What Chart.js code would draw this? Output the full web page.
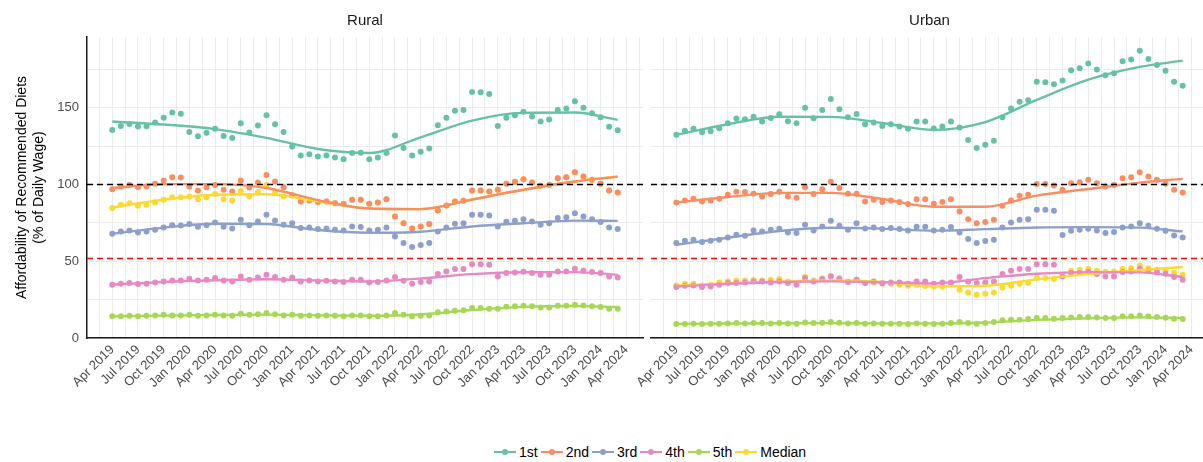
<!DOCTYPE html>
<html>
<head>
<meta charset="utf-8">
<script src="https://cdn.jsdelivr.net/npm/chart.js@4.4.1/dist/chart.umd.min.js"></script>
<style>
  html, body { margin: 0; padding: 0; background: #fff; overflow: hidden; }
  #wrap { position: relative; width: 1203px; height: 462px; overflow: hidden; font-family: "Liberation Sans", Arial, sans-serif; }
  #rural { position: absolute; left: 0; top: 0; }
  #urban { position: absolute; left: 600px; top: 0; }
  #legend { position: absolute; top: 444px; left: 494px; display: flex; align-items: center; font-size: 14px; color: #000; }
  .item { display: flex; align-items: center; margin-right: 3px; }
  .key { position: relative; width: 22px; height: 14px; margin-right: 3px; }
  .key .ln { position: absolute; left: 0; right: 0; top: 6px; height: 2px; }
  .key .dt { position: absolute; left: 8px; top: 4px; width: 6px; height: 6px; border-radius: 50%; }
</style>
</head>
<body>
<div id="wrap">
  <canvas id="rural" width="650" height="420"></canvas>
  <canvas id="urban" width="620" height="420"></canvas>
  <div id="legend"></div>
</div>
<script>
// quarterly tick labels, months counted from Apr 2019 (= 0)
const tickLabels = ['Apr 2019','Jul 2019','Oct 2019','Jan 2020','Apr 2020','Jul 2020','Oct 2020',
  'Jan 2021','Apr 2021','Jul 2021','Oct 2021','Jan 2022','Apr 2022','Jul 2022','Oct 2022',
  'Jan 2023','Apr 2023','Jul 2023','Oct 2023','Jan 2024','Apr 2024'];
const seriesNames = ['1st', '2nd', '3rd', '4th', '5th', 'Median'];
const seriesColors = ['#66c2a5', '#fc8d62', '#8da0cb', '#e78ac3', '#a6d854', '#ffd92f'];
const refLines = [100, 52];
const refColors = ['#000000', '#ff0000'];

// monthly values, Apr 2019 .. Mar 2024
const rural1st = [135.5,138.1,139.4,137.7,137.9,140.3,143.5,146.8,146.1,134.2,131.4,133.6,136.2,131.6,130.3,139.9,133.8,138.3,145.1,139.2,
  134.2,124.7,118.8,119.7,118.2,118.8,117.5,116.4,120.4,120.6,116.4,117.5,120.4,131.8,123.8,118.8,121.2,123.4,138.6,143.5,
  147.9,148.5,160.2,160.0,158.9,138.1,143.5,145.1,147.3,144.2,140.9,142.2,148.5,149.4,154.2,150.0,146.4,143.8,137.5,135.3];
const rural2nd = [96.9,98.6,99.7,98.2,98.6,100.4,102.5,104.7,104.5,98.6,96.0,98.2,99.7,96.5,95.4,102.5,98.0,101.2,106.2,101.9,
  98.2,93.0,88.9,89.5,88.5,88.9,87.8,87.2,90.0,90.0,87.4,88.2,90.4,79.1,74.8,71.3,72.6,74.2,83.0,86.3,
  88.9,89.3,96.0,96.0,95.4,96.5,100.4,101.7,103.4,101.2,99.1,99.7,104.1,104.7,108.0,105.1,103.0,100.4,96.0,94.7];
const rural3rd = [67.9,69.4,70.0,68.7,69.4,70.5,72.0,73.5,73.3,74.2,72.4,73.5,75.2,72.4,71.3,77.0,73.5,75.9,80.2,76.5,
  73.7,74.8,71.6,72.0,70.9,71.3,70.5,70.0,72.6,72.2,70.0,70.5,72.0,66.1,61.8,59.2,60.5,61.8,69.4,72.0,
  74.4,74.8,80.2,80.2,79.8,72.6,75.7,76.3,77.4,75.9,73.7,74.8,78.1,78.7,81.3,79.1,77.4,75.5,72.0,70.9];
const rural4th = [34.7,35.3,35.8,35.1,35.3,36.2,36.8,37.5,37.5,38.6,37.5,37.9,39.0,37.5,36.8,40.1,37.9,39.4,41.2,39.7,
  37.9,39.4,36.8,37.5,36.8,37.3,36.8,36.4,37.9,37.9,36.2,36.4,37.5,39.7,37.3,35.3,36.4,36.8,41.6,43.3,
  44.9,44.9,48.1,48.1,47.7,40.1,42.3,42.7,43.1,42.3,41.2,41.2,43.3,43.3,45.1,43.8,42.9,42.3,40.1,39.4];
const rural5th = [14.1,14.1,14.5,14.1,14.5,14.7,15.2,14.7,14.7,15.2,14.5,14.7,15.2,14.7,14.5,15.8,15.2,15.4,16.3,15.4,
  14.7,15.2,14.5,14.7,14.5,14.7,14.5,14.1,14.7,14.7,14.1,14.1,14.7,16.3,15.2,14.1,14.5,14.7,16.7,17.3,
  17.8,18.0,19.5,19.5,19.1,19.1,20.4,20.6,21.0,20.6,19.9,19.9,21.0,21.0,21.7,21.2,20.6,20.2,19.1,19.1];
const ruralMedian = [84.6,86.7,87.8,86.1,86.7,88.2,90.0,91.7,91.7,92.1,90.4,91.7,93.7,90.4,89.5,95.8,92.1,95.0,99.7,95.0,
  92.1,93.0,88.9,89.5,88.5,88.9,87.8,87.2,90.0,90.0,87.4,88.2,90.4,79.1,74.8,71.3,72.6,74.2,83.0,86.3,
  88.9,89.3,96.0,96.0,95.4,96.5,100.4,101.7,103.4,101.2,99.1,99.7,104.1,104.7,108.0,105.1,103.0,100.4,96.0,94.7];

const urban1st = [132.3,134.9,136.2,134.0,134.7,136.6,139.9,142.9,142.5,144.0,140.9,143.3,145.7,141.2,139.9,150.0,143.1,148.5,155.7,149.0,
  143.8,145.9,139.2,140.3,138.1,139.2,137.7,136.2,140.9,140.9,136.4,137.7,140.9,137.0,129.0,123.8,125.8,128.4,143.8,149.4,
  153.9,154.8,166.8,166.6,165.3,167.6,174.4,175.7,178.7,174.8,171.1,172.4,180.2,181.3,187.1,181.7,177.8,174.1,166.8,164.2];
const urban2nd = [88.2,89.5,90.6,88.9,89.5,90.6,93.2,95.2,95.0,93.9,92.1,93.7,95.2,92.1,91.3,98.2,93.7,96.9,101.7,97.6,
  93.9,93.9,88.9,90.0,88.5,89.5,88.5,87.2,90.4,90.4,87.4,88.5,90.4,82.4,77.4,74.8,75.5,77.0,86.1,89.5,
  92.6,93.2,100.2,100.2,99.3,96.5,100.8,101.5,103.0,100.8,98.6,99.7,104.1,104.7,108.0,105.1,103.0,100.4,96.5,94.7];
const urban3rd = [61.8,63.3,64.0,62.5,63.3,64.0,65.5,67.2,66.6,70.0,69.4,70.5,71.1,68.7,68.3,73.7,70.0,72.6,76.3,73.1,
  70.5,74.8,71.3,72.0,70.9,71.6,70.9,70.0,72.4,72.4,70.0,70.5,72.2,68.7,64.4,61.8,63.1,64.0,72.0,75.2,
  77.0,77.4,83.5,83.5,82.8,67.0,69.8,70.5,71.1,70.0,68.3,69.0,72.0,72.6,74.8,73.1,71.1,69.8,66.8,65.5];
const urban4th = [33.2,34.0,34.2,33.2,33.6,34.7,35.8,35.8,36.2,36.8,36.8,36.2,36.8,35.8,34.7,39.0,36.8,38.4,40.1,38.4,
  36.4,37.9,35.8,36.8,35.8,36.2,36.2,35.3,36.8,36.8,35.3,36.2,36.2,39.7,36.8,35.8,36.2,36.8,41.6,43.8,
  44.9,44.9,48.1,48.1,47.7,40.1,42.3,42.3,43.1,41.6,40.1,40.1,42.9,43.3,45.1,43.8,42.7,41.8,39.7,37.9];
const urban5th = [9.1,9.1,9.3,9.1,9.3,9.3,9.5,9.7,9.5,9.7,9.7,9.5,9.7,9.5,9.3,10.1,9.7,9.9,10.4,9.9,
  9.5,9.7,9.3,9.5,9.3,9.3,9.3,9.1,9.5,9.3,9.1,9.3,9.7,10.4,9.7,9.3,9.7,10.4,11.5,11.9,
  11.9,12.3,13.0,13.0,12.6,13.0,13.4,13.7,13.7,13.4,13.0,13.0,14.1,14.1,14.7,14.1,13.7,13.2,12.6,12.3];
const urbanMedian = [34.2,35.3,35.3,34.2,34.7,36.2,36.8,37.5,37.5,37.9,37.5,37.9,38.4,36.8,35.8,39.7,37.5,38.8,40.5,39.0,
  36.8,38.0,35.8,36.2,35.3,35.3,34.7,34.0,34.7,33.8,33.6,33.6,35.3,31.4,29.7,28.2,28.8,29.7,32.9,34.0,
  35.3,35.8,39.0,39.0,38.4,41.0,43.8,44.5,44.9,43.8,43.1,43.3,44.9,45.5,47.0,45.5,44.5,44.0,42.3,41.2];

// smoothed trend, read every six months
const trendMonths = [0, 6, 12, 18, 24, 30, 36, 42, 48, 54, 59];
const rural1stTrend = [141.0,139.0,136.0,130.3,123.1,120.5,130.7,141.6,146.6,146.8,142.0];
const rural2ndTrend = [97.6,100.2,100.2,97.7,89.8,84.3,83.9,90.2,96.5,101.9,105.1];
const rural3rdTrend = [67.9,71.9,74.4,74.2,70.3,68.5,69.2,72.6,74.7,76.4,76.3];
const rural4thTrend = [34.7,36.5,37.6,38.3,37.5,36.8,38.8,41.6,42.8,42.9,41.2];
const rural5thTrend = [14.2,14.6,15.0,15.2,14.7,14.5,15.3,18.2,20.3,20.8,20.2];
const ruralMedianTrend = [85.0,90.0,93.3,93.6,89.0,84.3,83.9,90.2,96.5,101.9,105.1];
const urban1stTrend = [132.3,139.2,144.1,144.0,140.0,135.5,140.6,155.0,168.2,176.5,180.6];
const urban2ndTrend = [88.2,91.8,94.5,94.5,90.5,85.5,85.5,92.7,97.0,101.2,103.6];
const urban3rdTrend = [60.7,65.3,69.7,71.8,71.2,69.9,70.9,72.0,72.2,71.9,69.4];
const urban4thTrend = [33.5,35.3,36.5,36.9,36.3,35.5,39.0,41.8,42.9,42.7,39.7];
const urban5thTrend = [9.2,9.4,9.6,9.7,9.5,9.4,10.1,11.8,12.9,13.4,13.0];
const urbanMedianTrend = [34.0,35.5,36.7,37.4,36.5,33.6,34.0,38.2,41.6,44.2,46.2];

const FONT = '"Liberation Sans", Arial, sans-serif';
const xGrid = [];
for (let k = -1; k <= 41; k++) xGrid.push(k * 1.5);
const yGrid = [0, 25, 50, 75, 100, 125, 150, 175];

const refLinePlugin = {
  id: 'refLines',
  afterDatasetsDraw(chart) {
    const {ctx, chartArea: {left, right}, scales: {y}} = chart;
    ctx.save();
    ctx.lineWidth = 1.3;
    ctx.setLineDash([6, 4]);
    refLines.forEach((v, i) => {
      const py = Math.round(y.getPixelForValue(v)) + 0.5;
      ctx.strokeStyle = refColors[i];
      ctx.beginPath(); ctx.moveTo(left, py); ctx.lineTo(right, py); ctx.stroke();
    });
    ctx.restore();
  }
};

function buildDatasets(values, trends) {
  const sets = [];
  values.forEach((vals, i) => {
    sets.push({
      data: vals.map((v, m) => ({x: m, y: v})),
      showLine: false, pointRadius: 3, pointHoverRadius: 3,
      pointBackgroundColor: seriesColors[i], pointBorderWidth: 0,
      order: 10 + i
    });
    sets.push({
      data: trends[i].map((v, k) => ({x: trendMonths[k], y: v})),
      borderColor: seriesColors[i], borderWidth: 2.4, pointRadius: 0,
      cubicInterpolationMode: 'monotone', fill: false,
      order: i
    });
  });
  return sets;
}

function makePanel(id, title, values, trends, isLeft) {
  return new Chart(document.getElementById(id), {
    type: 'line',
    data: {datasets: buildDatasets(values, trends)},
    options: {
      responsive: false, animation: false, devicePixelRatio: 1,
      layout: {padding: isLeft ? {left: 0, right: 7, top: 0, bottom: 0} : {left: 51, right: 12, top: 0, bottom: 0}},
      plugins: {
        legend: {display: false}, tooltip: {enabled: false},
        title: {display: true, text: title, fullSize: false, color: '#1a1a1a',
          font: {family: FONT, size: 15, weight: 'normal', lineHeight: 1.2}, padding: {top: 12, bottom: 7}}
      },
      scales: {
        x: {
          type: 'linear', min: -2.95, max: 61.95, bounds: 'data',
          afterBuildTicks: s => { s.ticks = xGrid.map(v => ({value: v})); },
          afterFit: s => { s.height = 82; s.paddingLeft = 0; s.paddingRight = 0; },
          ticks: {autoSkip: false, minRotation: 45, maxRotation: 45, padding: 4,
            color: '#4d4d4d', font: {family: FONT, size: 13},
            callback: v => (v >= 0 && v <= 60 && v % 3 === 0) ? tickLabels[v / 3] : ''},
          grid: {drawTicks: false, lineWidth: 1, color: '#ebebeb'},
          border: {display: true, color: '#1a1a1a', width: 1.5}
        },
        y: {
          min: 0, max: 196, bounds: 'data',
          afterBuildTicks: s => { s.ticks = yGrid.map(v => ({value: v})); },
          afterFit: s => { s.width = isLeft ? 87 : 0; },
          ticks: {display: isLeft, padding: 8, color: '#4d4d4d', font: {family: FONT, size: 13},
            callback: v => v % 50 === 0 ? String(v) : ''},
          grid: {drawTicks: false, lineWidth: 1, color: '#ebebeb'},
          border: {display: isLeft, color: '#1a1a1a', width: 1.5},
          title: {display: isLeft, text: ['Affordability of Recommended Diets', '(% of Daily Wage)'],
            color: '#000', font: {family: FONT, size: 14, lineHeight: 1.25}, padding: {top: 13, bottom: 0}}
        }
      }
    },
    plugins: [refLinePlugin]
  });
}

makePanel('rural', 'Rural',
  [rural1st, rural2nd, rural3rd, rural4th, rural5th, ruralMedian],
  [rural1stTrend, rural2ndTrend, rural3rdTrend, rural4thTrend, rural5thTrend, ruralMedianTrend], true);
makePanel('urban', 'Urban',
  [urban1st, urban2nd, urban3rd, urban4th, urban5th, urbanMedian],
  [urban1stTrend, urban2ndTrend, urban3rdTrend, urban4thTrend, urban5thTrend, urbanMedianTrend], false);

// shared legend under both panels
const legend = document.getElementById('legend');
seriesNames.forEach((name, i) => {
  const item = document.createElement('div');
  item.className = 'item';
  item.innerHTML = '<span class="key"><span class="ln" style="background:' + seriesColors[i] + '"></span>' +
    '<span class="dt" style="background:' + seriesColors[i] + '"></span></span><span>' + name + '</span>';
  legend.appendChild(item);
});
</script>
</body>
</html>
